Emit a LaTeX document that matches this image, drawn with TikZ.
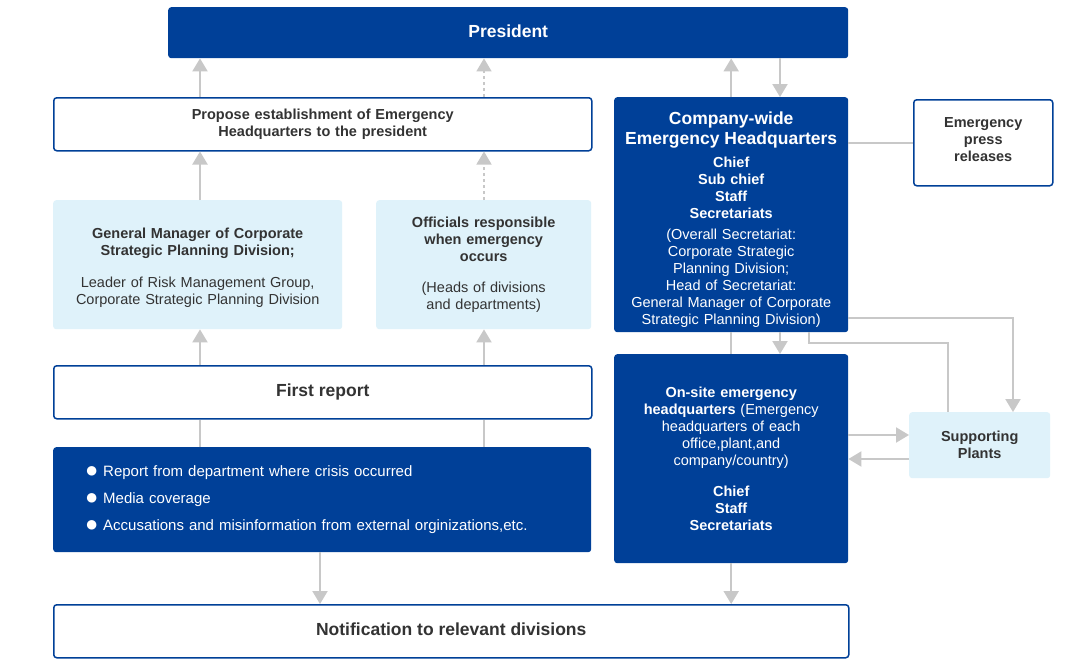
\documentclass[tikz,border=0pt]{standalone}
\usepackage{fontspec}
\setmainfont{Liberation Sans}
\usetikzlibrary{arrows.meta,calc}
\definecolor{dblue}{RGB}{0,64,152}
\definecolor{lblue}{RGB}{223,242,250}
\definecolor{cgray}{RGB}{200,200,200}
\definecolor{tgray}{RGB}{51,51,51}
\newcommand\bul{\makebox[18pt][l]{\raisebox{-0.5pt}{\fontsize{22}{22}\selectfont ●}}}
\newcommand\dn[1]{\rule[-#1pt]{0pt}{#1pt}}
\newcommand\up[1]{\rule{0pt}{#1pt}}
\begin{document}
\begin{tikzpicture}[x=1pt,y=-1pt,
 base/.style={anchor=north west, inner sep=0pt, rounded corners=3pt, align=center, font=\fontsize{14.5}{17}\selectfont},
 darkbox/.style={base, fill=dblue, text=white},
 whitebox/.style={base, draw=dblue, line width=1.5pt, fill=white, text=tgray},
 lightbox/.style={base, fill=lblue, text=tgray},
 bigfont/.style={font=\fontsize{17.5}{20}\selectfont\bfseries},
 arr/.style={draw=cgray, line width=2pt, -{Triangle[width=15pt,length=13pt]}},
 ln/.style={draw=cgray, line width=2pt},
 darr/.style={arr, line width=1.5pt, dash pattern=on 3pt off 3pt}
]
\useasboundingbox (0,0) rectangle (1080,667);
\fill[white] (0,0) rectangle (1080,667);

\node[darkbox, bigfont, minimum width=680pt, minimum height=51pt] (pres) at (168,7) {President\dn{4}};
\node[whitebox, minimum width=538pt, minimum height=53pt, text width=530pt] (propose) at (53,97)
 {\bfseries Propose establishment of Emergency\\Headquarters to the president};
\node[lightbox, minimum width=289pt, minimum height=129pt, text width=285pt] (gm) at (53,200)
 {\bfseries\up{16}General Manager of Corporate\\Strategic Planning Division;\\[15pt]\mdseries Leader of Risk Management Group,\\Corporate Strategic Planning Division};
\node[lightbox, minimum width=215pt, minimum height=129pt, text width=211pt] (off) at (376,200)
 {\bfseries Officials responsible\\when emergency\\occurs\\[14pt]\mdseries (Heads of divisions\\and departments)};
\node[whitebox, bigfont, minimum width=538pt, minimum height=53pt] (first) at (53,365) {First report};
\node[darkbox, minimum width=538pt, minimum height=105pt, text width=474pt, align=left, font=\fontsize{15}{27}\selectfont] (bullet) at (53,447)
 {\bul Report from department where crisis occurred\\\bul Media coverage\\\bul Accusations and misinformation from external orginizations,etc.};
\node[whitebox, bigfont, minimum width=795pt, minimum height=53pt] (notif) at (53,604) {Notification to relevant divisions\dn{4}};
\node[darkbox, minimum width=234pt, minimum height=235pt, text width=230pt] (hq) at (614,97)
 {\fontsize{17.5}{20}\selectfont\bfseries\up{22}Company-wide\\Emergency Headquarters\\[6pt]\fontsize{14.5}{17}\selectfont Chief\\Sub chief\\Staff\\Secretariats\\[4pt]\mdseries (Overall Secretariat:\\Corporate Strategic\\Planning Division;\\Head of Secretariat:\\General Manager of Corporate\\Strategic Planning Division)};
\node[darkbox, minimum width=234pt, minimum height=209pt, text width=230pt] (onsite) at (614,354)
 {\bfseries On-site emergency\\headquarters {\mdseries (Emergency}\\\mdseries headquarters of each\\office,plant,and\\company/country)\\[14pt]\bfseries Chief\\Staff\\Secretariats};
\node[whitebox, minimum width=139pt, minimum height=86pt, text width=135pt] (press) at (913,99)
 {\bfseries Emergency\\press\\releases\dn{6}};
\node[lightbox, minimum width=141pt, minimum height=66pt, text width=137pt] (sup) at (909,412)
 {\bfseries Supporting\\Plants};

\coordinate (c1) at (200,0);
\coordinate (c2) at (484,0);
\coordinate (c3) at (780,0);
\coordinate (c4) at (320,0);
\coordinate (c5) at (1013,318);
\coordinate (c6) at (809,343);
\coordinate (c7) at (948,0);
\coordinate (c8) at (0,435);
\coordinate (c9) at (0,459);

\draw[arr] (propose.north -| c1) -- (pres.south -| c1);
\draw[darr] (propose.north -| c2) -- (pres.south -| c2);
\draw[arr] (gm.north -| c1) -- (propose.south -| c1);
\draw[darr] (off.north -| c2) -- (propose.south -| c2);
\draw[arr] (first.north -| c1) -- (gm.south -| c1);
\draw[arr] (first.north -| c2) -- (off.south -| c2);
\draw[ln] (bullet.north -| c1) -- (first.south -| c1);
\draw[ln] (bullet.north -| c2) -- (first.south -| c2);
\draw[arr] (bullet.south -| c4) -- (notif.north -| c4);
\draw[arr] (hq.north) -- (pres.south -| hq.north);
\draw[arr] (pres.south -| c3) -- (hq.north -| c3);
\draw[ln] (hq.east |- press.west) -- (press.west);
\draw[ln] (hq.south) -- (onsite.north);
\draw[arr] (hq.south -| c3) -- (onsite.north -| c3);
\draw[arr] (hq.east |- c5) -| (sup.north -| c5);
\draw[ln] (hq.south -| c6) -- (c6) -| (sup.north -| c7);
\draw[arr] (onsite.east |- c8) -- (sup.west |- c8);
\draw[arr] (sup.west |- c9) -- (onsite.east |- c9);
\draw[arr] (onsite.south) -- (notif.north -| onsite.south);
\end{tikzpicture}
\end{document}
